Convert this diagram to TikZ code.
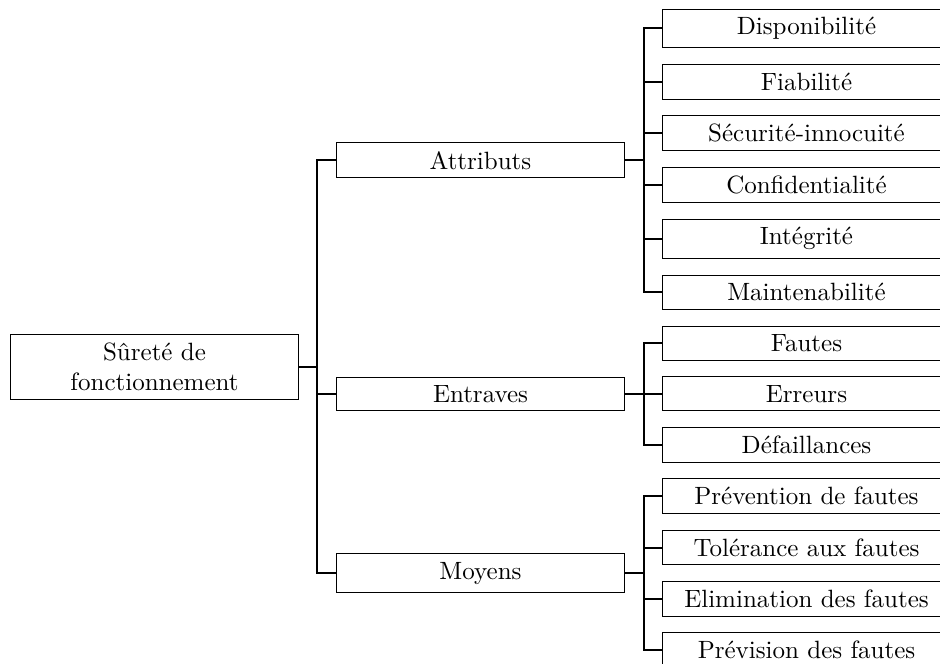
\documentclass[tikz,border=0pt]{standalone}
\usepackage{fontspec}
\usetikzlibrary{positioning, calc}

\begin{document}
\begin{tikzpicture}[x = 0.4pt, y = 0.4pt, % one unit per pixel
                node distance = 6.3pt, % gap between boxes
                thick % line style
            ]

            \tikzstyle{every node}=[draw = black, thin, rectangle,
            minimum width = 115.2pt]

            \useasboundingbox (0,0) rectangle (940,-663);

            % leaves
            \node (dispo) [anchor = north west] at (662,-8.5) {Disponibilité};
            \node (fiab) [below = of dispo] {Fiabilité};
            \node (secu) [below = of fiab] {Sécurité-innocuité};
            \node (conf) [below = of secu] {Confidentialité};
            \node (integ) [below = of conf] {Intégrité};
            \node (maint) [below = of integ] {Maintenabilité};
            \node (fautes) [below = of maint] {Fautes};
            \node (err) [below = of fautes] {Erreurs};
            \node (defa) [below = of err] {Défaillances};
            \node (prev) [below = of defa] {Prévention de fautes};
            \node (tol) [below = of prev] {Tolérance aux fautes};
            \node (elim) [below = of tol] {Elimination des fautes};
            \node (previs) [below = of elim] {Prévision des fautes};

            % middle column
            \coordinate (m1) at ($(dispo.west)!0.5!(maint.west)$);
            \coordinate (m2) at ($(fautes.west)!0.5!(defa.west)$);
            \coordinate (m3) at ($(prev.west)!0.5!(previs.west)$);
            \node (attr) [left = 14.8pt of m1] {Attributs};
            \node (entr) [left = 14.8pt of m2] {Entraves};
            \node (moy) [left = 14.8pt of m3] {Moyens};

            % root
            \coordinate (m0) at ($(attr.west)!0.5!(moy.west)$);
            \node (root) [left = 14.8pt of m0, align = center]
            {Sûreté de\\fonctionnement};

            \foreach \c in {attr, entr, moy}
                \draw (root.east) -- ++(7.4pt,0) |- (\c.west);
            \foreach \c in {dispo, fiab, secu, conf, integ, maint}
                \draw (attr.east) -- ++(7.4pt,0) |- (\c.west);
            \foreach \c in {fautes, err, defa}
                \draw (entr.east) -- ++(7.4pt,0) |- (\c.west);
            \foreach \c in {prev, tol, elim, previs}
                \draw (moy.east) -- ++(7.4pt,0) |- (\c.west);
\end{tikzpicture}
\end{document}
